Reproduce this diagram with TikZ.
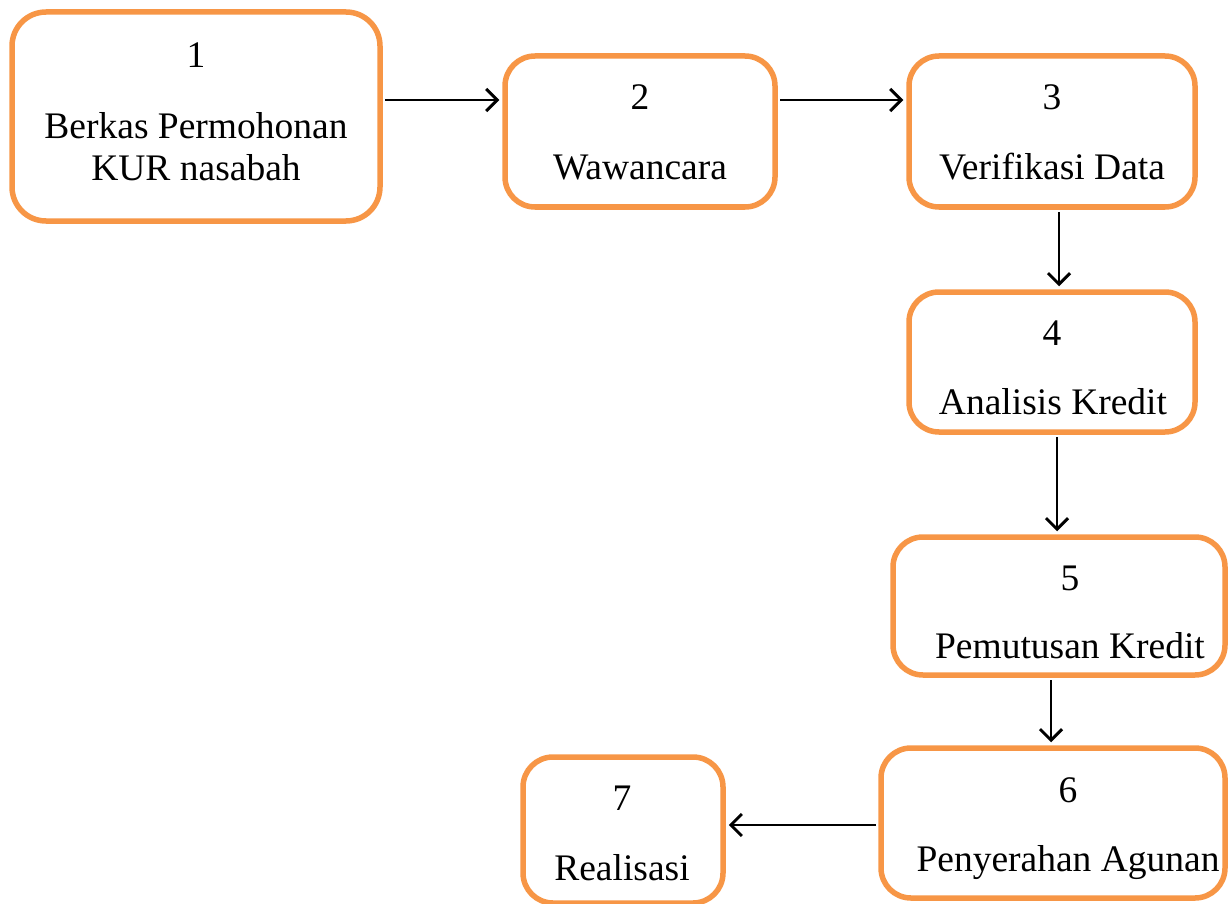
\documentclass[tikz,border=0pt]{standalone}
\usepackage{fontspec}
\setmainfont{Liberation Serif}
\usetikzlibrary{arrows.meta}
\definecolor{boxorange}{HTML}{F79646}
\begin{document}
\begin{tikzpicture}[x=1pt,y=-1pt,
  box/.style={draw=boxorange, line width=5.5pt, rounded corners=30pt, fill=white, inner sep=0pt},
  lbl/.style={anchor=base, inner sep=0pt, font=\fontsize{37.5}{45}\selectfont},
  conn/.style={line width=2.9pt, -{Straight Barb[length=11pt,width=22pt,line width=2.9pt]}}]
\useasboundingbox (0,0) rectangle (1228,904);
\begin{scope}
\clip (0,0) rectangle (1228,904);
\node[box, rounded corners=34pt, minimum width=368pt, minimum height=209pt] (b1) at (196,116.5) {};
\node[box, minimum width=270pt, minimum height=151pt] (b2) at (640,131.5) {};
\node[box, minimum width=286pt, minimum height=151pt] (b3) at (1052,131.5) {};
\node[box, minimum width=286pt, minimum height=140pt] (b4) at (1052,362) {};
\node[box, minimum width=332pt, minimum height=138pt] (b5) at (1059,606) {};
\node[box, minimum width=344pt, minimum height=150pt] (b6) at (1053,823) {};
\node[box, minimum width=200pt, minimum height=146pt] (b7) at (623,830) {};
\end{scope}
\node[lbl] (n1) at (196,68) {1};
\node[lbl] (t1a) at (196,139) {Berkas Permohonan};
\node[lbl] (t1b) at (196,181) {KUR nasabah};
\node[lbl] (n2) at (640,110) {2};
\node[lbl] (t2) at (640,179) {Wawancara};
\node[lbl] (n3) at (1052,110) {3};
\node[lbl] (t3) at (1052,179) {Verifikasi Data};
\node[lbl] (n4) at (1052,345) {4};
\node[lbl] (t4) at (1053,414) {Analisis Kredit};
\node[lbl] (n5) at (1070,590) {5};
\node[lbl] (t5) at (1070,658) {Pemutusan Kredit};
\node[lbl] (n6) at (1068,802) {6};
\node[lbl] (t6) at (1068,871) {Penyerahan Agunan};
\node[lbl] (n7) at (622,810) {7};
\node[lbl] (t7) at (622,880) {Realisasi};
\draw[conn] ([xshift=2.5pt]b1.east |- 0,100) -- ([xshift=-3pt]b2.west |- 0,100);
\draw[conn] ([xshift=2.5pt]b2.east |- 0,100) -- ([xshift=-3pt]b3.west |- 0,100);
\draw[conn] ([yshift=-2.5pt]b3.south -| 1059,0) -- ([yshift=3pt]b4.north -| 1059,0);
\draw[conn] ([yshift=-2.5pt]b4.south -| 1057,0) -- ([yshift=3pt]b5.north -| 1057,0);
\draw[conn] ([yshift=-2.5pt]b5.south -| 1051,0) -- ([yshift=3pt]b6.north -| 1051,0);
\draw[conn] ([xshift=-2.5pt]b6.west |- 0,825) -- ([xshift=3pt]b7.east |- 0,825);
\end{tikzpicture}
\end{document}
